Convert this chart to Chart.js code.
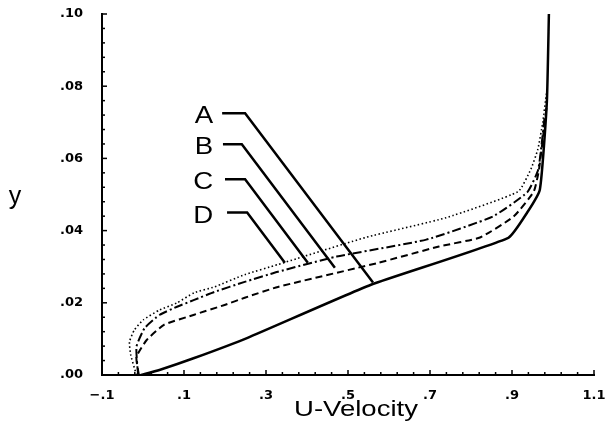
<!DOCTYPE html>
<html lang="en">
<head>
  <meta charset="UTF-8" />
  <title>U-Velocity profiles</title>
  <script src="https://cdn.jsdelivr.net/npm/chart.js"></script>
  <style>
    html, body { margin: 0; padding: 0; background: #fff; }
    #wrap { width: 605px; height: 439px; }
  </style>
</head>
<body>
  <div id="wrap"><canvas id="profileChart" width="605" height="439"></canvas></div>

  <script>
    // axis ticks
    const xTicks = [-0.1, 0.1, 0.3, 0.5, 0.7, 0.9, 1.1];
    const xTickLabels = ['\u2212.1', '.1', '.3', '.5', '.7', '.9', '1.1'];
    const yTicks = [0, 0.02, 0.04, 0.06, 0.08, 0.10];
    const yTickLabels = ['.00', '.02', '.04', '.06', '.08', '.10'];

    // velocity profiles
    const curveNames = ['A', 'B', 'C', 'D'];
    const uA = [-0.005, 0.04, 0.125, 0.255, 0.556, 0.891, 0.937, 0.968, 0.985, 0.99];
    const yA = [0, 0.0014, 0.0047, 0.0103, 0.025, 0.038, 0.045, 0.0514, 0.0756, 0.1];
    const uB = [-0.01, -0.016, 0.009, 0.051, 0.125, 0.199, 0.248, 0.329, 0.575, 0.722, 0.822, 0.904, 0.953, 0.966, 0.984];
    const yB = [0, 0.005, 0.0097, 0.0139, 0.0167, 0.0194, 0.0214, 0.0244, 0.0311, 0.0356, 0.0381, 0.0439, 0.0508, 0.057, 0.074];
    const uC = [-0.012, -0.016, 0.004, 0.041, 0.083, 0.125, 0.174, 0.248, 0.329, 0.472, 0.691, 0.853, 0.937, 0.964, 0.98];
    const yC = [0, 0.0078, 0.013, 0.0167, 0.0189, 0.0208, 0.023, 0.0258, 0.0286, 0.0328, 0.0375, 0.0439, 0.0506, 0.0569, 0.072];
    const uD = [-0.016, -0.03, -0.033, -0.021, 0.001, 0.04, 0.083, 0.125, 0.174, 0.248, 0.329, 0.543, 0.74, 0.915, 0.946, 0.963, 0.975, 0.984];
    const yD = [0, 0.0056, 0.0092, 0.0125, 0.0153, 0.018, 0.02, 0.0228, 0.0244, 0.0278, 0.0306, 0.0381, 0.0436, 0.0508, 0.057, 0.0625, 0.07, 0.078];

    // curve labels and their leader lines
    const labelU = [0.171, 0.171, 0.171, 0.171];
    const leaderY = [0.0725, 0.0639, 0.0542, 0.045];
    const leaderStartU = [0.193, 0.195, 0.2, 0.205];
    const leaderBendU = [0.249, 0.241, 0.249, 0.254];
    const leaderEndU = [0.561, 0.468, 0.402, 0.346];
    const leaderEndY = [0.0256, 0.0297, 0.0311, 0.0311];

    const pts = (u, y) => u.map((v, i) => ({ x: v, y: y[i] }));
    const isMajor = (list, v) => list.findIndex(t => Math.abs(t - v) < 1e-6);

    const curveStyles = [
      { borderWidth: 2.5, borderDash: [] },
      { borderWidth: 2, borderDash: [7, 4] },
      { borderWidth: 2, borderDash: [9, 3, 2, 3] },
      { borderWidth: 1.6, borderDash: [1.5, 2.5] }
    ];
    const curves = [[uA, yA], [uB, yB], [uC, yC], [uD, yD]];

    const datasets = curves.map((c, i) => ({
      label: curveNames[i],
      data: pts(c[0], c[1]),
      showLine: true,
      borderColor: '#000',
      borderWidth: curveStyles[i].borderWidth,
      borderDash: curveStyles[i].borderDash,
      pointRadius: 0,
      tension: 0.15,
      fill: false
    }));

    curveNames.forEach((n, i) => {
      datasets.push({
        label: 'leader ' + n,
        data: [
          { x: leaderStartU[i], y: leaderY[i] },
          { x: leaderBendU[i], y: leaderY[i] },
          { x: leaderEndU[i], y: leaderEndY[i] }
        ],
        showLine: true,
        borderColor: '#000',
        borderWidth: 2.5,
        pointRadius: 0,
        tension: 0
      });
    });

    function stretchedText(ctx, text, x, y, sx, align) {
      ctx.save();
      ctx.translate(x, y);
      ctx.scale(sx, 1);
      ctx.textAlign = align;
      ctx.textBaseline = 'alphabetic';
      ctx.fillText(text, 0, 0);
      ctx.restore();
    }

    // inward tick marks + titles + curve labels
    const decorations = {
      id: 'decorations',
      afterDraw(chart) {
        const { ctx, chartArea: a } = chart;
        const xs = chart.scales.x, ys = chart.scales.y;
        ctx.save();
        ctx.strokeStyle = '#000';
        ctx.lineWidth = 1.5;
        xs.ticks.forEach(t => {
          const px = xs.getPixelForValue(t.value);
          const len = isMajor(xTicks, t.value) >= 0 ? 5 : 3;
          ctx.beginPath(); ctx.moveTo(px, a.bottom); ctx.lineTo(px, a.bottom - len); ctx.stroke();
        });
        ys.ticks.forEach(t => {
          const py = ys.getPixelForValue(t.value);
          const len = isMajor(yTicks, t.value) >= 0 ? 5 : 3;
          ctx.beginPath(); ctx.moveTo(a.left, py); ctx.lineTo(a.left + len, py); ctx.stroke();
        });

        ctx.fillStyle = '#000';
        ctx.font = '22px "Liberation Sans", Arial, sans-serif';
        stretchedText(ctx, 'U-Velocity', (a.left + a.right) / 2 + 8, 416, 1.25, 'center');
        ctx.font = '25px "Liberation Sans", Arial, sans-serif';
        stretchedText(ctx, 'y', 15, 204, 1, 'center');

        ctx.font = '24px "Liberation Sans", Arial, sans-serif';
        curveNames.forEach((n, i) => {
          const px = xs.getPixelForValue(labelU[i]);
          const py = ys.getPixelForValue(leaderY[i]);
          stretchedText(ctx, n, px, py + 10, 1.15, 'right');
        });
        ctx.restore();
      }
    };

    const tickFont = { family: '"DejaVu Sans", sans-serif', size: 13, weight: 'bold' };

    new Chart(document.getElementById('profileChart'), {
      type: 'scatter',
      data: { datasets },
      options: {
        responsive: false,
        animation: false,
        layout: { padding: { top: 14, right: 11, left: 0, bottom: 0 } },
        plugins: { legend: { display: false }, tooltip: { enabled: false } },
        scales: {
          x: {
            type: 'linear',
            min: -0.1,
            max: 1.1,
            grid: { display: false },
            border: { display: true, color: '#000', width: 2 },
            ticks: {
              stepSize: 0.04,
              autoSkip: false,
              maxRotation: 0,
              padding: 5,
              color: '#000',
              font: tickFont,
              callback: v => {
                const k = isMajor(xTicks, v);
                return k >= 0 ? xTickLabels[k] : '';
              }
            },
            afterFit: s => { s.height = 64; s.paddingLeft = 0; s.paddingRight = 0; }
          },
          y: {
            type: 'linear',
            min: 0,
            max: 0.1,
            grid: { display: false },
            border: { display: true, color: '#000', width: 2 },
            ticks: {
              stepSize: 0.004,
              autoSkip: false,
              padding: 11,
              color: '#000',
              font: tickFont,
              callback: v => {
                const k = isMajor(yTicks, v);
                return k >= 0 ? yTickLabels[k] : '';
              }
            },
            afterFit: s => { s.width = 102; s.paddingTop = 0; s.paddingBottom = 0; }
          }
        }
      },
      plugins: [decorations]
    });
  </script>
</body>
</html>
